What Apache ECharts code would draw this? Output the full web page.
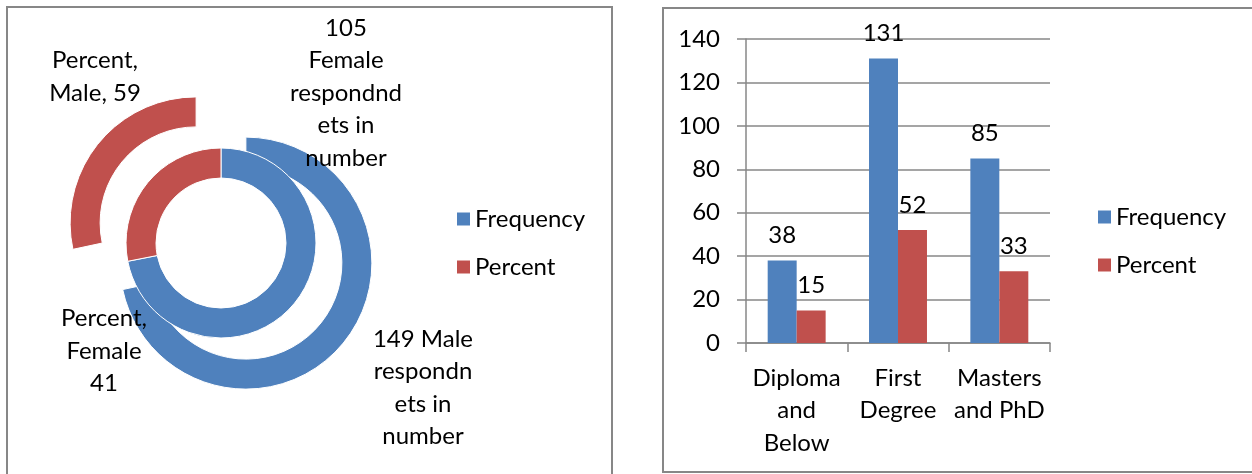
<!DOCTYPE html>
<html>
<head>
<meta charset="utf-8">
<script src="https://cdn.jsdelivr.net/npm/echarts@6/dist/echarts.min.js"></script>
<style>
  html, body { margin: 0; padding: 0; background: #fff; overflow: hidden; }
  #main { width: 1252px; height: 474px; }
</style>
</head>
<body>
<div id="main"></div>
<script>
// 饼图数据（内环 = Female，外环 = Male）
var ringCategories = ['Frequency', 'Percent'];
var femaleValues = [105, 41];
var maleValues = [149, 59];
var femaleLabels = [femaleValues[0] + '\nFemale\nrespondnd\nets in\nnumber', 'Percent,\nFemale\n' + femaleValues[1]];
var maleLabels = [maleValues[0] + ' Male\nrespondn\nets in\nnumber', 'Percent,\nMale, ' + maleValues[1]];

// 柱状图数据
var levels = ['Diploma\nand\nBelow', 'First\nDegree', 'Masters\nand PhD'];
var frequency = [38, 131, 85];
var percent = [15, 52, 33];

var BLUE = '#4F81BD', RED = '#C0504D', GRAY = '#878787';
var FONT = 'Lato';
var FS = 24;
var CX = 221, CY = 243;
var EXPLODE = 32;

// 标签位置（Excel 手动摆放）
var femaleLabelPos = [[346, 93], [104, 351]];
var maleLabelPos = [[423, 388], [95, 77]];

// 外环分离：按扇区中线方向偏移圆心
function explodedCenter(values, idx, dist) {
    var total = 0, before = 0;
    for (var i = 0; i < values.length; i++) {
        total += values[i];
        if (i < idx) before += values[i];
    }
    var mid = (before + values[idx] / 2) / total * 2 * Math.PI;
    return [CX + dist * Math.sin(mid), CY - dist * Math.cos(mid)];
}

var ringLabel = {
    show: true,
    color: '#000',
    fontFamily: FONT,
    fontSize: FS,
    lineHeight: 32.5,
    align: 'center'
};

function outerSlice(idx) {
    return {
        name: 'Male ' + ringCategories[idx],
        type: 'pie',
        z: 2,
        center: explodedCenter(maleValues, idx, EXPLODE),
        radius: [96, 126],
        startAngle: 90,
        avoidLabelOverlap: false,
        emphasis: { scale: false },
        labelLine: { show: false },
        label: Object.assign({}, ringLabel, {
            formatter: function () { return maleLabels[idx]; }
        }),
        labelLayout: function () {
            var pos = maleLabelPos[idx];
            return { x: pos[0], y: pos[1], align: 'center', verticalAlign: 'middle' };
        },
        data: ringCategories.map(function (c, j) {
            if (j === idx) {
                return { name: c, value: maleValues[j], itemStyle: { borderColor: '#fff', borderWidth: 1 } };
            }
            return { name: '-', value: maleValues[j], itemStyle: { color: 'rgba(0,0,0,0)', borderWidth: 0 }, label: { show: false } };
        })
    };
}

var chart = echarts.init(document.getElementById('main'));

var legendBase = {
    orient: 'vertical',
    icon: 'rect',
    itemWidth: 13,
    itemHeight: 13,
    itemGap: 22,
    textStyle: { fontFamily: FONT, fontSize: FS, color: '#000', lineHeight: 26 }
};

chart.setOption({
    animation: false,
    color: [BLUE, RED],
    textStyle: { fontFamily: FONT },
    graphic: [
        { type: 'rect', shape: { x: 7, y: 7, width: 605, height: 520 }, style: { fill: 'none', stroke: GRAY, lineWidth: 2 }, silent: true },
        { type: 'rect', shape: { x: 663, y: 8, width: 640, height: 464 }, style: { fill: 'none', stroke: GRAY, lineWidth: 2 }, silent: true }
    ],
    legend: [
        Object.assign({ data: ringCategories, left: 452, top: 201 }, legendBase),
        Object.assign({ data: ['Frequency', 'Percent'], left: 1093, top: 199 }, legendBase)
    ],
    grid: { left: 746, right: 202, top: 39, bottom: 131 },
    xAxis: {
        type: 'category',
        data: levels,
        axisLine: { lineStyle: { color: GRAY, width: 1.5 } },
        axisTick: { show: true, length: 9, lineStyle: { color: GRAY, width: 1.5 } },
        axisLabel: { color: '#000', fontFamily: FONT, fontSize: FS, lineHeight: 32.5, margin: 19, interval: 0 }
    },
    yAxis: {
        type: 'value',
        min: 0,
        max: 140,
        interval: 20,
        axisLine: { show: true, lineStyle: { color: GRAY, width: 1.5 } },
        axisTick: { show: true, length: 9, lineStyle: { color: GRAY, width: 1.5 } },
        splitLine: { lineStyle: { color: GRAY, width: 1.5 } },
        axisLabel: { color: '#000', fontFamily: FONT, fontSize: FS, margin: 26 }
    },
    series: [
        {
            name: 'Female',
            type: 'pie',
            z: 5,
            center: [CX, CY],
            radius: [65, 95],
            startAngle: 90,
            avoidLabelOverlap: false,
            itemStyle: { borderColor: '#fff', borderWidth: 1 },
            emphasis: { scale: false },
            labelLine: { show: false },
            label: Object.assign({}, ringLabel, {
                formatter: function (p) { return femaleLabels[p.dataIndex]; }
            }),
            labelLayout: function (p) {
                var pos = femaleLabelPos[p.dataIndex];
                return { x: pos[0], y: pos[1], align: 'center', verticalAlign: 'middle' };
            },
            data: ringCategories.map(function (c, i) {
                return { name: c, value: femaleValues[i] };
            })
        },
        outerSlice(0),
        outerSlice(1),
        {
            name: 'Frequency',
            type: 'bar',
            barWidth: '28.6%',
            barGap: '0%',
            itemStyle: { color: BLUE },
            label: { show: true, position: 'top', distance: 13, color: '#000', fontFamily: FONT, fontSize: FS },
            data: frequency
        },
        {
            name: 'Percent',
            type: 'bar',
            barWidth: '28.6%',
            barGap: '0%',
            itemStyle: { color: RED },
            label: { show: true, position: 'top', distance: 13, color: '#000', fontFamily: FONT, fontSize: FS },
            data: percent
        }
    ]
});
</script>
</body>
</html>
